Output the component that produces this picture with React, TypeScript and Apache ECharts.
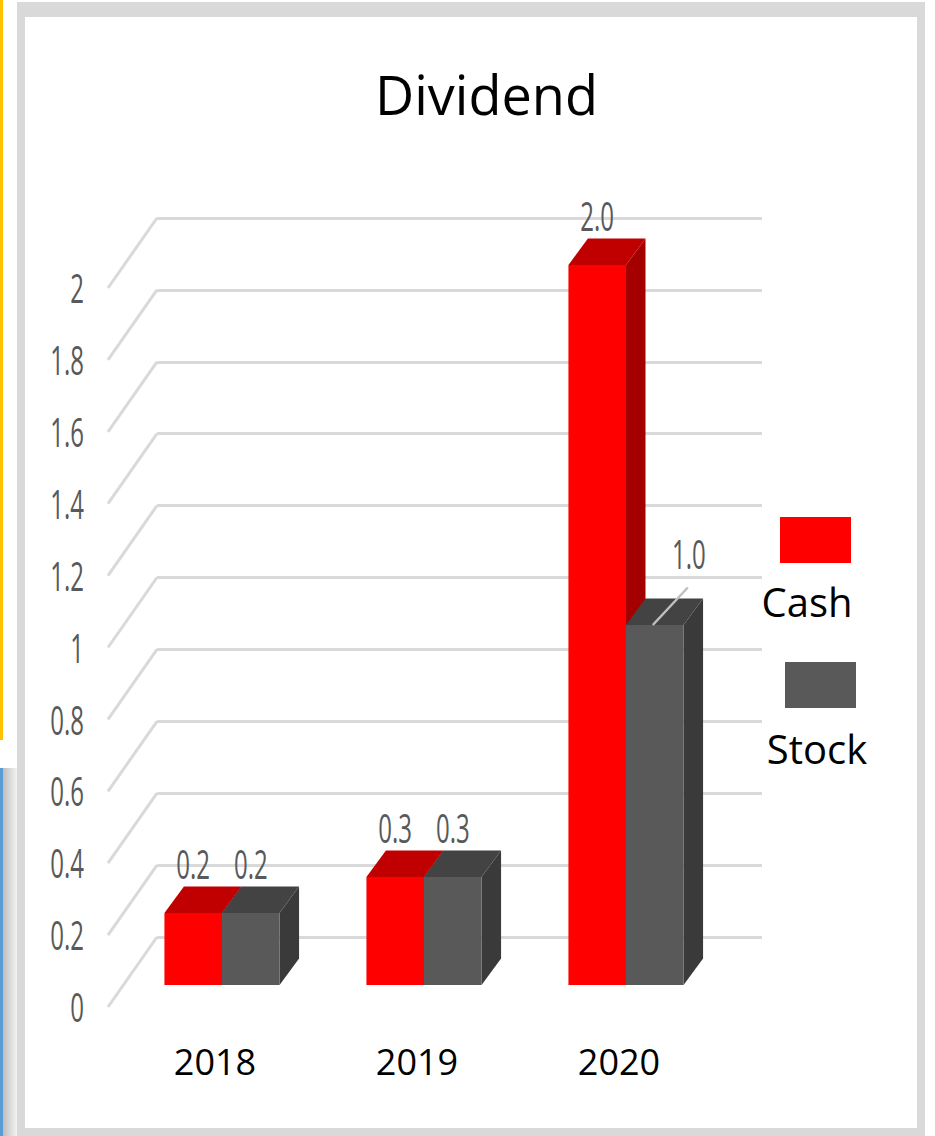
import React, { useEffect, useRef } from "react";
import * as echarts from "echarts";

const titleText = "Dividend";
const categories = ["2018", "2019", "2020"];
const seriesNames = ["Cash", "Stock"];
const cashValues = [0.2, 0.3, 2.0];
const stockValues = [0.2, 0.3, 1.0];
const gridTicks = [0, 0.2, 0.4, 0.6, 0.8, 1, 1.2, 1.4, 1.6, 1.8, 2];
const tickLabels = ["0", "0.2", "0.4", "0.6", "0.8", "1", "1.2", "1.4", "1.6", "1.8", "2"];

const COLORS: Record<string, { front: string; top: string; side: string }> = {
  Cash: { front: "#FF0000", top: "#C00000", side: "#A50000" },
  Stock: { front: "#595959", top: "#434343", side: "#3A3A3A" },
};
const DX = 19.5;
const DY = -26.5;
const LABEL_SHIFT: Record<string, [number, number]> = { "Stock-2": [34, -22] };
const SANS = '"Open Sans", sans-serif';

function makeBox(name: string, sIdx: number) {
  return (params: any, api: any) => {
    const cat = api.value(0);
    const v = api.value(1);
    const top = api.coord([cat, v]);
    const bot = api.coord([cat, 0]);
    const band = api.size([1, 0])[0];
    const w = band * 0.285;
    const x0 = sIdx === 0 ? top[0] - w : top[0];
    const x1 = x0 + w;
    const yT = top[1];
    const yB = bot[1];
    const c = COLORS[name];
    const children: any[] = [
      {
        type: "polygon",
        shape: { points: [[x1, yT], [x1 + DX, yT + DY], [x1 + DX, yB + DY], [x1, yB]] },
        style: { fill: c.side },
      },
      {
        type: "polygon",
        shape: { points: [[x0, yT], [x1, yT], [x1 + DX, yT + DY], [x0 + DX, yT + DY]] },
        style: { fill: c.top },
      },
      { type: "rect", shape: { x: x0, y: yT, width: w, height: yB - yT }, style: { fill: c.front } },
    ];
    const shift = LABEL_SHIFT[`${name}-${params.dataIndex}`];
    const lx = x0 + w / 2 + (shift ? shift[0] : 0);
    const ly = yT + DY - 23 + (shift ? shift[1] : 0);
    if (shift) {
      children.push({
        type: "line",
        shape: { x1: x0 + w / 2 - 2, y1: yT, x2: lx - 1, y2: ly + 34 },
        style: { stroke: "#BFBFBF", lineWidth: 2.5 },
      });
    }
    children.push({
      type: "text",
      x: lx,
      y: ly,
      scaleX: 0.6,
      style: {
        text: Number(v).toFixed(1),
        fill: "#595959",
        font: `40px ${SANS}`,
        align: "center",
        verticalAlign: "middle",
      },
    });
    return { type: "group", children };
  };
}

export default function App() {
  const ref = useRef<HTMLDivElement>(null);
  useEffect(() => {
    if (!ref.current) return;
    const chart = echarts.init(ref.current, null, { renderer: "svg" });
    chart.setOption({
      animation: false,
      backgroundColor: "#ffffff",
      title: {
        text: titleText,
        left: 370,
        top: 62,
        textStyle: { fontFamily: SANS, fontSize: 54, fontWeight: "normal", color: "#000000" },
      },
      grid: [
        { left: 121, top: 265, width: 606, height: 720 },
        { left: 157, top: 218, width: 605, height: 719 },
      ],
      xAxis: [
        {
          gridIndex: 0,
          type: "category",
          data: categories,
          axisLine: { show: false },
          axisTick: { show: false },
          axisLabel: { color: "#000000", fontSize: 36, fontFamily: SANS, margin: 58, padding: [0, 14, 0, 0] },
        },
        { gridIndex: 1, type: "value", min: 0, max: 1, show: false },
      ],
      yAxis: [
        { gridIndex: 0, type: "value", min: 0, max: 2, show: false },
        {
          gridIndex: 1,
          type: "value",
          min: 0,
          max: 2,
          interval: 0.2,
          axisLabel: { show: false },
          splitLine: { lineStyle: { color: "#D9D9D9", width: 3 } },
          axisLine: { show: false },
          axisTick: { show: false },
        },
      ],
      series: [
        {
          type: "custom",
          name: "value-axis",
          xAxisIndex: 1,
          yAxisIndex: 1,
          silent: true,
          z: 1,
          data: gridTicks.map((v) => [0, v]),
          renderItem: (p: any, api: any) => {
            const pt = api.coord([0, api.value(1)]);
            const fx = pt[0] - 49;
            const fy = pt[1] + 70;
            return {
              type: "group",
              children: [
                {
                  type: "line",
                  shape: { x1: pt[0], y1: pt[1], x2: fx, y2: fy },
                  style: { stroke: "#D9D9D9", lineWidth: 3 },
                },
                {
                  type: "text",
                  x: fx - 24,
                  y: fy,
                  scaleX: 0.6,
                  style: {
                    text: tickLabels[p.dataIndex],
                    fill: "#595959",
                    font: `40px ${SANS}`,
                    align: "right",
                    verticalAlign: "middle",
                  },
                },
              ],
            };
          },
        },
        {
          type: "custom",
          name: seriesNames[0],
          xAxisIndex: 0,
          yAxisIndex: 0,
          z: 2,
          itemStyle: { color: COLORS.Cash.front },
          data: cashValues.map((v, i) => [i, v]),
          renderItem: makeBox(seriesNames[0], 0),
        },
        {
          type: "custom",
          name: seriesNames[1],
          xAxisIndex: 0,
          yAxisIndex: 0,
          z: 3,
          itemStyle: { color: COLORS.Stock.front },
          data: stockValues.map((v, i) => [i, v]),
          renderItem: makeBox(seriesNames[1], 1),
        },
      ],
      graphic: [
        { type: "rect", z: -10, shape: { x: 0, y: 0, width: 3, height: 740 }, style: { fill: "#FFC000" } },
        {
          type: "rect",
          z: -10,
          shape: { x: 3, y: 768, width: 14, height: 368 },
          style: {
            fill: new echarts.graphic.LinearGradient(0, 0, 1, 0, [
              { offset: 0, color: "#BDBDBD" },
              { offset: 1, color: "#F4F4F4" },
            ]),
          },
        },
        { type: "rect", z: -10, shape: { x: 0, y: 768, width: 3, height: 368 }, style: { fill: "#5B9BD5" } },
        { type: "rect", z: -10, shape: { x: 17, y: 2, width: 908, height: 1134 }, style: { fill: "#D9D9D9" } },
        { type: "rect", z: -9, shape: { x: 25, y: 17, width: 892, height: 1111 }, style: { fill: "#FFFFFF" } },
        { type: "rect", z: 10, shape: { x: 780, y: 517, width: 71, height: 46 }, style: { fill: COLORS.Cash.front } },
        {
          type: "text",
          z: 10,
          x: 807,
          y: 601,
          style: { text: seriesNames[0], fill: "#000000", font: `40px ${SANS}`, align: "center", verticalAlign: "middle" },
        },
        { type: "rect", z: 10, shape: { x: 785, y: 662, width: 71, height: 46 }, style: { fill: COLORS.Stock.front } },
        {
          type: "text",
          z: 10,
          x: 817,
          y: 748,
          style: { text: seriesNames[1], fill: "#000000", font: `40px ${SANS}`, align: "center", verticalAlign: "middle" },
        },
      ],
    });
    return () => chart.dispose();
  }, []);
  return <div ref={ref} style={{ position: "absolute", left: 0, top: 0, width: 935, height: 1136 }} />;
}
